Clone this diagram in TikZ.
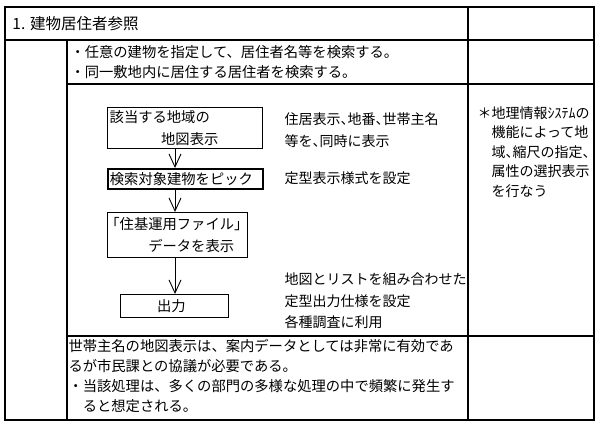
\documentclass[tikz,border=0pt]{standalone}
\usepackage{fontspec}
\setmainfont{Noto Sans CJK JP}
\newfontfamily\jphalt[RawFeature=+halt]{Noto Sans CJK JP}
\usetikzlibrary{positioning}
\usetikzlibrary{arrows.meta}
\tikzset{
	every path/.style={line width=1pt},
	frame/.style={line width=1.3pt},
	flowbox/.style={draw,line width=1.4pt,anchor=north west,align=left,inner xsep=2pt,inner ysep=0pt,font=\fontsize{14.3}{22}\selectfont},
	flow/.style={-{Straight Barb[length=13pt,width=12pt,line width=0.9pt]},line width=0.9pt},
	celltext/.style={anchor=west,align=left,inner sep=0pt,font=\fontsize{14.3}{20}\selectfont},
	sidetext/.style={anchor=west,align=left,inner sep=0pt,font=\jphalt\fontsize{14}{21.5}\selectfont},
}

\begin{document}
\begin{tikzpicture}[x=1pt,y=-1pt]
	\useasboundingbox (0,0) rectangle (600,430);

	% table frame.....................
	\draw [frame] (5,7) rectangle (594,420);
	\draw [frame] (5,40) -- (594,40);
	\draw [frame] (468,7) -- (468,420);
	\draw [frame] (67,40) -- (67,420);
	\draw [frame] (67,84) -- (594,84);
	\draw [frame] (67,336) -- (594,336);

	% cell texts......................
	\node [celltext,font=\fontsize{15.5}{20}\selectfont] (title) at (12,24) {1. 建物居住者参照};
	\node [celltext] (aim) at (70,62) {・任意の建物を指定して、居住者名等を検索する。\\・同一敷地内に居住する居住者を検索する。};
	\node [celltext] (remark) at (68,376) {世帯主名の地図表示は、案内データとしては非常に有効であ\\るが市民課との協議が必要である。\\・当該処理は、多くの部門の多様な処理の中で頻繁に発生す\\\hspace*{1em}ると想定される。};
	\node [sidetext,font=\jphalt\fontsize{14}{19.5}\selectfont] (gis) at (491,152) {\llap{＊}地理情報ｼｽﾃﾑの\\機能によって地\\域、縮尺の指定、\\属性の選択表示\\を行なう};

	% flow boxes......................
	\node [flowbox,text width=151pt,minimum height=41pt] (area) at (107,107) {該当する地域の\\\hspace*{3.6em}地図表示};
	\node [flowbox,text width=151pt,minimum height=20pt,line width=1.8pt] (pick) at (107,168) {検索対象建物をピック};
	\node [flowbox,text width=136pt,minimum height=45pt] (file) at (107,212) {\hspace*{-0.3em}「住基運用ファイル」\\\hspace*{2.7em}データを表示};
	\node [flowbox,text width=104pt,minimum height=23pt] (out) at (120,294) {\hspace*{2.4em}出力};

	% arrows..........................
	\coordinate (spine) at (175,0);
	\draw [flow] (area.south -| spine) -- (pick.north -| spine);
	\draw [flow] (pick.south -| spine) -- (file.north -| spine);
	\draw [flow] (file.south -| spine) -- (out.north -| spine);

	% side notes......................
	\node [sidetext] (disp) at (284,130) {住居表示、地番、世帯主名\\等を、同時に表示};
	\node [sidetext] (form) at (284,178) {定型表示様式を設定};
	\node [sidetext] (print) at (284,301) {地図とリストを組み合わせた\\定型出力仕様を設定\\各種調査に利用};

\end{tikzpicture}
\end{document}
